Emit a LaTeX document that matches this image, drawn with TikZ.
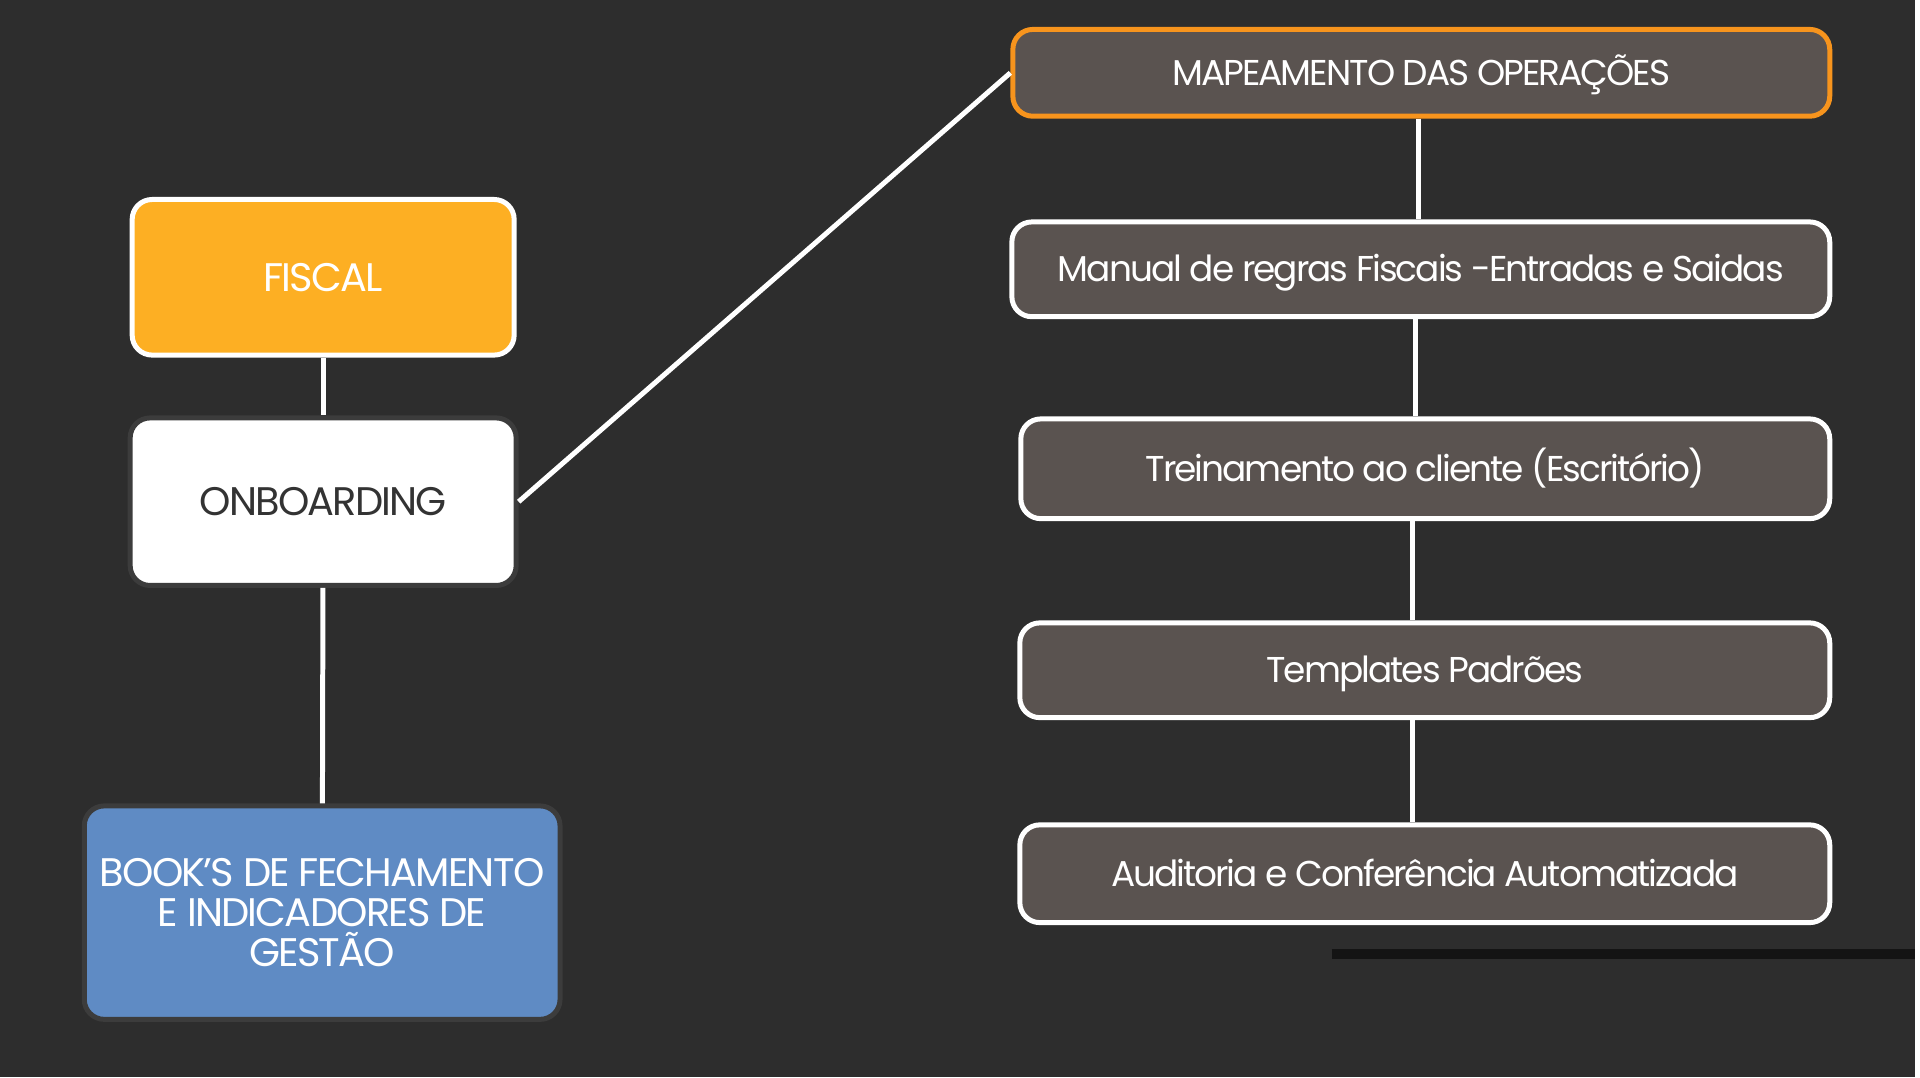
\documentclass[tikz,border=0pt]{standalone}
\usepackage{fontspec}
\setmainfont{Poppins}[LetterSpace=-4.5]
\newfontfamily\stepfont{Poppins}[LetterSpace=-5.5]
\usepackage{tikz}
\usetikzlibrary{positioning}

\definecolor{bgdark}{HTML}{2D2D2D}
\definecolor{fiscalorange}{HTML}{FDAF23}
\definecolor{bookblue}{HTML}{5F8BC4}
\definecolor{stepgray}{HTML}{5A5350}
\definecolor{mapaorange}{HTML}{F7941D}
\definecolor{rimgray}{HTML}{3C3C3C}
\definecolor{bardark}{HTML}{141414}
\definecolor{textdark}{HTML}{333333}

\tikzset{
  box/.style={rounded corners=20pt, line width=5pt, align=center, inner sep=0pt},
  leftbox/.style={box, minimum width=383pt, font=\fontsize{40}{40}\selectfont},
  capline/.style={text height=#1, text depth=0pt},
  rightbox/.style={box, capline=25pt, draw=white, fill=stepgray, text=white, font=\stepfont\fontsize{36}{40}\selectfont},
  link/.style={draw=white, line width=5pt}
}

\begin{document}
\begin{tikzpicture}[x=1pt,y=-1pt]
\fill[bgdark] (0,0) rectangle (1920,1080);
\draw[bardark, line width=10pt] (1335,956) -- (1920,956);

% left column
\node[leftbox, capline=28pt, draw=white, fill=fiscalorange, text=white, minimum height=156pt] (fiscal) at (324,278) {FISCAL};
\node[leftbox, capline=28pt, draw=rimgray, fill=white, text=textdark, minimum width=387pt, minimum height=168pt] (onboarding) at (324,503) {ONBOARDING};
\node[leftbox, draw=rimgray, fill=bookblue, text=white, minimum width=477pt, minimum height=214pt] (books) at (323,915) {BOOK’S DE FECHAMENTO\\E INDICADORES DE\\GESTÃO};

% right column
\node[rightbox, draw=mapaorange, minimum width=819pt, minimum height=87pt] (mapa) at (1425,73) {MAPEAMENTO DAS OPERAÇÕES};
\node[rightbox, minimum width=820pt, minimum height=95pt] (manual) at (1424.5,270) {Manual de regras Fiscais -Entradas e Saidas};
\node[rightbox, minimum width=811pt, minimum height=100pt] (treino) at (1429,470) {Treinamento ao cliente (Escritório)};
\node[rightbox, minimum width=812pt, minimum height=95pt] (templates) at (1428.5,672) {Templates Padrões};
\node[rightbox, minimum width=812pt, minimum height=98pt] (auditoria) at (1428.5,876) {Auditoria e Conferência Automatizada};

% connectors
\draw[link] (fiscal) -- (onboarding);
\draw[link] (onboarding) -- (books);
\draw[link] (onboarding.east) -- (mapa.west);
\draw[link] ([xshift=-3pt]mapa.south) -- ([xshift=-3pt]mapa.south |- manual.north);
\draw[link] ([xshift=-5.5pt]manual.south) -- ([xshift=-5.5pt]manual.south |- treino.north);
\draw[link] ([xshift=-13pt]treino.south) -- ([xshift=-13pt]treino.south |- templates.north);
\draw[link] ([xshift=-12.5pt]templates.south) -- ([xshift=-12.5pt]templates.south |- auditoria.north);
\end{tikzpicture}
\end{document}
